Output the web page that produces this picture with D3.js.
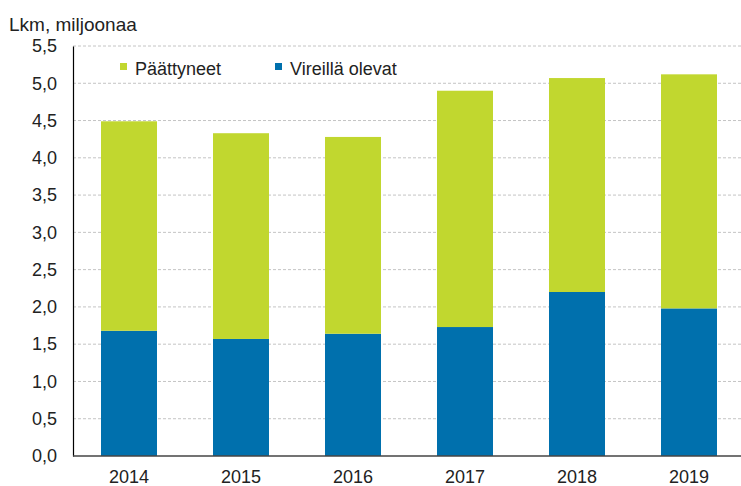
<!DOCTYPE html>
<html>
<head>
<meta charset="utf-8">
<script src="https://cdn.jsdelivr.net/npm/d3@7"></script>
<style>
  body { margin: 0; background: #fff; }
  svg text { font-family: 'Liberation Sans', Arial, sans-serif; fill: #222; }
</style>
</head>
<body>
<div id="chart"></div>
<script>
'use strict';

// Data (millions)
const years = ['2014', '2015', '2016', '2017', '2018', '2019'];
const pending = [1.68, 1.57, 1.64, 1.73, 2.20, 1.98];   // Vireillä olevat
const totals = [4.49, 4.33, 4.28, 4.90, 5.07, 5.12];    // bar tops
const ended = totals.map((t, i) => t - pending[i]);    // Päättyneet

const yTicks = [0, 0.5, 1, 1.5, 2, 2.5, 3, 3.5, 4, 4.5, 5, 5.5];
const seriesNames = ['Päättyneet', 'Vireillä olevat'];
const palette = { ended: '#c1d72f', pending: '#0070ad' };

const width = 741, height = 486;
const margins = { top: 46, right: -4, bottom: 30, left: 73 };

const svg = d3.select('#chart').append('svg')
    .attr('width', width)
    .attr('height', height);

const scaleX = d3.scaleBand()
    .domain(years)
    .range([margins.left, width - margins.right])
    .paddingInner(0.5)
    .paddingOuter(0.25);

const scaleY = d3.scaleLinear()
    .domain([0, 5.5])
    .range([height - margins.bottom, margins.top]);

const fmt = d => d3.format('.1f')(d).replace('.', ',');

// Gridlines
svg.append('g')
    .selectAll('line')
    .data(yTicks.filter(d => d > 0))
    .join('line')
    .attr('x1', margins.left)
    .attr('x2', width)
    .attr('y1', d => scaleY(d))
    .attr('y2', d => scaleY(d))
    .attr('stroke', '#c4c4c4')
    .attr('stroke-dasharray', '3,2');

// Stacked bars
const stackData = years.map((y, i) => ({ year: y, pending: pending[i], ended: ended[i] }));
const stacked = d3.stack().keys(['pending', 'ended'])(stackData);

svg.append('g')
    .selectAll('g')
    .data(stacked)
    .join('g')
    .attr('fill', d => palette[d.key])
    .selectAll('rect')
    .data(d => d)
    .join('rect')
    .attr('x', d => scaleX(d.data.year))
    .attr('width', scaleX.bandwidth())
    .attr('y', d => scaleY(d[1]))
    .attr('height', d => scaleY(d[0]) - scaleY(d[1]));

// Axes
const axisY = svg.append('g')
    .attr('transform', `translate(${margins.left},0)`)
    .call(d3.axisLeft(scaleY).tickValues(yTicks).tickFormat(fmt).tickSize(0).tickPadding(16));
axisY.select('.domain').attr('stroke', '#000').attr('stroke-width', 1.2);
axisY.selectAll('text').style('font-size', '18px').attr('fill', '#222');

const axisX = svg.append('g')
    .attr('transform', `translate(0,${scaleY(0)})`)
    .call(d3.axisBottom(scaleX).tickSize(0).tickPadding(14));
axisX.select('.domain').attr('d', `M${margins.left},0H${width}`).attr('stroke', '#444').attr('stroke-width', 1.5);
axisX.selectAll('text').style('font-size', '18px').attr('fill', '#222');

// Axis title
svg.append('text')
    .attr('x', 9)
    .attr('y', 31)
    .style('font-size', '19px')
    .text('Lkm, miljoonaa');

// Legend
const legend = svg.append('g');
const legendItems = [
    { label: seriesNames[0], color: palette.ended, x: 120 },
    { label: seriesNames[1], color: palette.pending, x: 275 }
];
const items = legend.selectAll('g')
    .data(legendItems)
    .join('g')
    .attr('transform', d => `translate(${d.x},63)`);
items.append('rect')
    .attr('width', 7)
    .attr('height', 7)
    .attr('fill', d => d.color);
items.append('text')
    .attr('x', 15)
    .attr('y', 12)
    .style('font-size', '18px')
    .text(d => d.label);
</script>
</body>
</html>
